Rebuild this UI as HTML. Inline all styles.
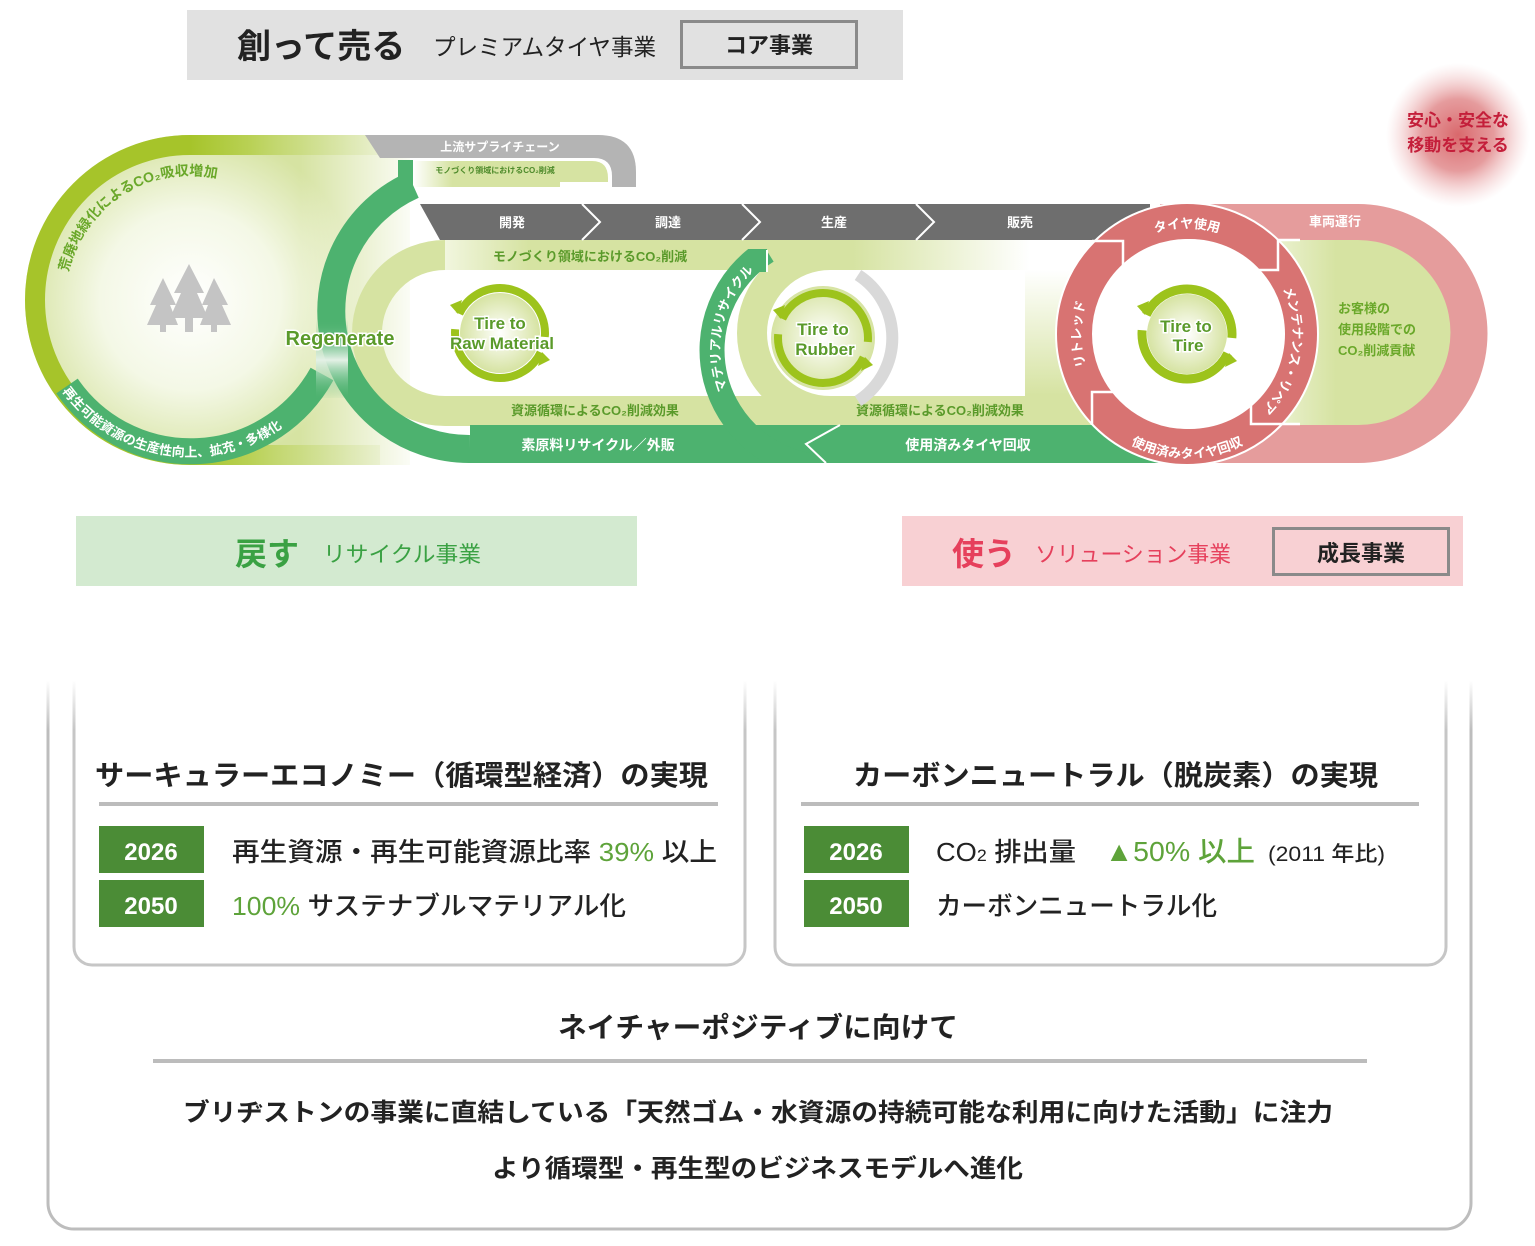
<!DOCTYPE html>
<html><head><meta charset="utf-8">
<style>
html,body{margin:0;padding:0;background:#fff;}
svg{display:block;font-family:"Liberation Sans","Noto Sans CJK JP",sans-serif;}
.b{font-weight:700;}
</style></head><body>
<svg width="1535" height="1246" viewBox="0 0 1535 1246" xmlns="http://www.w3.org/2000/svg">
<defs>
<radialGradient id="blob" cx="190" cy="300" r="200" gradientUnits="userSpaceOnUse">
<stop offset="0" stop-color="#fff"/><stop offset="0.45" stop-color="#f4f8e6"/><stop offset="0.85" stop-color="#d6e3a2"/><stop offset="1" stop-color="#d6e3a2"/>
</radialGradient>
<linearGradient id="blobfade" x1="190" y1="0" x2="410" y2="0" gradientUnits="userSpaceOnUse">
<stop offset="0" stop-color="#fff" stop-opacity="0"/><stop offset="0.5" stop-color="#fff" stop-opacity="0"/><stop offset="1" stop-color="#fff" stop-opacity="0.9"/>
</linearGradient>
<linearGradient id="ringfade" x1="190" y1="0" x2="390" y2="0" gradientUnits="userSpaceOnUse">
<stop offset="0" stop-color="#a6c42a"/><stop offset="0.3" stop-color="#b9d155"/><stop offset="1" stop-color="#dfe9b9" stop-opacity="0.3"/>
</linearGradient>
<linearGradient id="topband" x1="440" y1="0" x2="1030" y2="0" gradientUnits="userSpaceOnUse">
<stop offset="0" stop-color="#f3f7e2"/><stop offset="0.15" stop-color="#d6e3a2"/><stop offset="0.7" stop-color="#d6e3a2"/><stop offset="1" stop-color="#fff"/>
</linearGradient>
<linearGradient id="thinband" x1="413" y1="0" x2="610" y2="0" gradientUnits="userSpaceOnUse">
<stop offset="0" stop-color="#fff"/><stop offset="0.2" stop-color="#d6e3a2"/><stop offset="1" stop-color="#d6e3a2"/>
</linearGradient>
<linearGradient id="rightv" x1="0" y1="270" x2="0" y2="395" gradientUnits="userSpaceOnUse">
<stop offset="0" stop-color="#fff"/><stop offset="1" stop-color="#d6e3a2"/>
</linearGradient>
<linearGradient id="custg" x1="1260" y1="0" x2="1450" y2="0" gradientUnits="userSpaceOnUse">
<stop offset="0" stop-color="#f0f5dc"/><stop offset="0.4" stop-color="#d6e3a2"/><stop offset="1" stop-color="#d6e3a2"/>
</linearGradient>
<radialGradient id="tireg" cx="0.5" cy="0.5" r="0.5">
<stop offset="0" stop-color="#fff"/><stop offset="1" stop-color="#d6e3a2"/>
</radialGradient>
<radialGradient id="pinkblur" cx="1458" cy="135" r="72" gradientUnits="userSpaceOnUse">
<stop offset="0" stop-color="#d9686c"/><stop offset="0.5" stop-color="#e18a8c" stop-opacity="0.85"/><stop offset="1" stop-color="#f2c4c5" stop-opacity="0"/>
</radialGradient>
<linearGradient id="regen" x1="0" y1="320" x2="0" y2="400" gradientUnits="userSpaceOnUse">
<stop offset="0" stop-color="#4db26f" stop-opacity="0"/><stop offset="0.5" stop-color="#e4f1e6"/><stop offset="1" stop-color="#4db26f" stop-opacity="0"/>
</linearGradient>
<linearGradient id="topfade" x1="0" y1="640" x2="0" y2="730" gradientUnits="userSpaceOnUse">
<stop offset="0" stop-color="#fff" stop-opacity="1"/><stop offset="0.45" stop-color="#fff" stop-opacity="1"/><stop offset="1" stop-color="#fff" stop-opacity="0"/>
</linearGradient>
<clipPath id="matclip"><rect x="600" y="249" width="300" height="214"/></clipPath>
<path id="p-left" d="M67 278 A125 125 0 0 1 233 183"/>
<path id="p-bot" d="M60 388 A158 158 0 0 0 327 378"/>
<path id="p-mat" d="M734.7 405 A110 110 0 0 1 766.9 259.9"/>
<path id="p-rtop" d="M1142.2 237.9 A106 106 0 0 1 1231.8 237.9"/>
<path id="p-rright" d="M1273.8 273.2 A106 106 0 0 1 1247.8 420.8"/>
<path id="p-rleft" d="M1090.9 378.8 A106 106 0 0 1 1090.9 289.2"/>
<path id="p-rbot" d="M1099.3 421.7 A124 124 0 0 0 1274.7 421.7"/>
</defs>

<!-- Header -->
<rect x="187" y="10" width="716" height="70" fill="#e1e1e1"/>
<text x="237" y="58" font-size="34" class="b" fill="#222">創って売る</text>
<text x="433" y="55" font-size="23" fill="#222" textLength="223" lengthAdjust="spacingAndGlyphs">プレミアムタイヤ事業</text>
<rect x="681.5" y="21.5" width="175" height="46" fill="#e1e1e1" stroke="#8a8a8a" stroke-width="3"/>
<text x="769" y="53" font-size="22" class="b" fill="#222" text-anchor="middle">コア事業</text>

<!-- Left blob -->
<path d="M410 135 L190 135 A165 165 0 0 0 190 465 L410 465 Z" fill="url(#blob)"/>
<path d="M410 135 L190 135 A165 165 0 0 0 190 465 L410 465 Z" fill="url(#blobfade)"/>
<path d="M385 145 L190 145 A155 155 0 0 0 190 455 L380 455" fill="none" stroke="url(#ringfade)" stroke-width="20"/>
<path d="M67 386 A150 150 0 0 0 322 374" fill="none" stroke="#4db26f" stroke-width="26"/>
<text font-size="14" class="b" fill="#6aa82a"><textPath href="#p-left" startOffset="6">荒廃地緑化によるCO₂吸収増加</textPath></text>
<text font-size="13" class="b" fill="#fff"><textPath href="#p-bot" startOffset="4">再生可能資源の生産性向上、拡充・多様化</textPath></text>
<!-- trees -->
<g fill="#c4c4c4">
<polygon points="163,278 150,305 156,305 147,325 160,325 160,332 166,332 166,325 178,325 170,305 176,305"/>
<polygon points="214,278 202,305 208,305 200,325 211,325 211,332 217,332 217,325 231,325 222,305 228,305"/>
<polygon points="189,264 174,293 181,293 170,318 185,318 185,332 193,332 193,318 208,318 197,293 204,293"/>
</g>

<!-- gray upstream band -->
<path d="M365 135 L598 135 Q636 135 636 172 L636 187 L612 187 L612 176 Q612 158 594 158 L380 158 Z" fill="#b4b4b4"/>
<text x="500" y="151" font-size="12" class="b" fill="#fff" text-anchor="middle">上流サプライチェーン</text>
<path d="M413 161 L592 161 Q608 161 608 178 L608 187 L413 187 Z" fill="url(#thinband)"/>
<path d="M560 185 L612 185" stroke="#fff" stroke-width="6"/>
<text x="495" y="173" font-size="8" class="b" fill="#4d8a2a" text-anchor="middle">モノづくり領域におけるCO₂削減</text>

<!-- light inner C + bands -->
<path d="M445 255 A78 78 0 0 0 445 411" fill="none" stroke="#d6e3a2" stroke-width="30"/>
<rect x="445" y="240" width="590" height="30" fill="url(#topband)"/>
<rect x="445" y="396" width="650" height="30" fill="#d6e3a2"/>
<path d="M830 255 A78 78 0 0 0 830 411" fill="none" stroke="#d6e3a2" stroke-width="30"/>
<rect x="1025" y="270" width="70" height="126" fill="url(#rightv)"/>

<!-- big green C -->
<path d="M413 185 A138 138 0 0 0 470 449" fill="none" stroke="#4db26f" stroke-width="28"/>
<rect x="398" y="160" width="15" height="40" fill="#4db26f"/>
<rect x="316" y="318" width="32" height="80" fill="url(#regen)"/>
<rect x="470" y="425" width="700" height="38" fill="#4db26f"/>
<text x="340" y="345" font-size="20" class="b" fill="#5a9a2a" text-anchor="middle" stroke="#fff" stroke-width="3" paint-order="stroke">Regenerate</text>
<text x="598" y="450" font-size="14" class="b" fill="#fff" text-anchor="middle">素原料リサイクル／外販</text>
<text x="968" y="450" font-size="14" class="b" fill="#fff" text-anchor="middle">使用済みタイヤ回収</text>
<text x="595" y="415" font-size="13" class="b" fill="#5a9a2a" text-anchor="middle">資源循環によるCO₂削減効果</text>
<text x="940" y="415" font-size="13" class="b" fill="#5a9a2a" text-anchor="middle">資源循環によるCO₂削減効果</text>
<text x="590" y="261" font-size="13" class="b" fill="#5a9a2a" text-anchor="middle">モノづくり領域におけるCO₂削減</text>

<!-- process arrows -->
<polygon points="420,204 1150,204 1150,240 440,240" fill="#6e6e6e"/>
<g fill="none" stroke="#fff" stroke-width="2">
<polyline points="582,204 600,222 582,240"/>
<polyline points="742,204 760,222 742,240"/>
<polyline points="916,204 934,222 916,240"/>
</g>
<g font-size="13" class="b" fill="#fff" text-anchor="middle">
<text x="512" y="227">開発</text><text x="668" y="227">調達</text><text x="834" y="227">生産</text><text x="1020" y="227">販売</text>
</g>

<!-- material recycle arc -->
<g clip-path="url(#matclip)">
<path d="M767 251 A117 117 0 0 0 822 467" fill="none" stroke="#4db26f" stroke-width="25"/>
<rect x="753" y="248" width="14" height="24" fill="#4db26f"/>
</g>
<polyline points="840,425 806,444 826,463" fill="none" stroke="#fff" stroke-width="2"/>
<path d="M767 250 L767 272" stroke="#fff" stroke-width="2"/>
<text font-size="13" class="b" fill="#fff"><textPath href="#p-mat" startOffset="50%" text-anchor="middle">マテリアルリサイクル</textPath></text>

<!-- Tire to Raw Material -->
<circle cx="500" cy="333" r="40" fill="url(#tireg)"/>
<circle cx="500" cy="333" r="45" fill="none" stroke="#9dc31c" stroke-width="8" stroke-dasharray="125 16" stroke-dashoffset="-20"/>
<polygon points="450,305 462,300 458,314" fill="#9dc31c"/>
<polygon points="550,360 538,366 542,352" fill="#9dc31c"/>
<text x="500" y="329" font-size="17" class="b" fill="#5a9a2a" text-anchor="middle" stroke="#fff" stroke-width="3" paint-order="stroke">Tire to</text>
<text x="502" y="349" font-size="17" class="b" fill="#5a9a2a" text-anchor="middle" stroke="#fff" stroke-width="3" paint-order="stroke">Raw Material</text>

<!-- Tire to Rubber -->
<path d="M858 275 A75 75 0 0 1 858 401" fill="none" stroke="#d9d9d9" stroke-width="12"/>
<circle cx="823" cy="338" r="52" fill="url(#tireg)"/>
<circle cx="823" cy="338" r="45" fill="none" stroke="#9dc31c" stroke-width="8" stroke-dasharray="125 16" stroke-dashoffset="-20"/>
<polygon points="773,310 785,305 781,319" fill="#9dc31c"/>
<polygon points="873,365 861,371 865,357" fill="#9dc31c"/>
<text x="823" y="335" font-size="17" class="b" fill="#5a9a2a" text-anchor="middle" stroke="#fff" stroke-width="3" paint-order="stroke">Tire to</text>
<text x="825" y="355" font-size="17" class="b" fill="#5a9a2a" text-anchor="middle" stroke="#fff" stroke-width="3" paint-order="stroke">Rubber</text>

<!-- Pink stadium -->
<path d="M1160 204 L1358 204 A129.5 129.5 0 0 1 1358 463 L1160 463 Z" fill="#e59c9c"/>
<path d="M1260 240 L1358 240 A92.5 92.5 0 0 1 1358 425 L1260 425 Z" fill="url(#custg)"/>
<text x="1335" y="226" font-size="13" class="b" fill="#fff" text-anchor="middle">車両運行</text>
<g font-size="13" class="b" fill="#6aa82a">
<text x="1338" y="313">お客様の</text><text x="1338" y="334">使用段階での</text><text x="1338" y="355">CO₂削減貢献</text>
</g>

<!-- Red ring -->
<circle cx="1187" cy="334" r="131" fill="#fff"/>
<circle cx="1187" cy="334" r="113" fill="none" stroke="#d87372" stroke-width="36"/>
<circle cx="1187" cy="334" r="131" fill="none" stroke="#fff" stroke-width="2"/>
<circle cx="1190" cy="334" r="95" fill="#fff"/>
<g fill="none" stroke="#fff" stroke-width="2.5">
<polyline points="1092,241 1123,241 1123,270"/>
<polyline points="1252,270 1278,270 1278,240 1300,240"/>
<polyline points="1251,397 1251,424 1300,424"/>
<polyline points="1120,392 1092,392 1092,425"/>
</g>
<g font-size="13" class="b" fill="#fff">
<text><textPath href="#p-rtop" startOffset="50%" text-anchor="middle">タイヤ使用</textPath></text>
<text><textPath href="#p-rright" startOffset="50%" text-anchor="middle">メンテナンス・リペア</textPath></text>
<text><textPath href="#p-rleft" startOffset="50%" text-anchor="middle">リトレッド</textPath></text>
<text><textPath href="#p-rbot" startOffset="50%" text-anchor="middle">使用済みタイヤ回収</textPath></text>
</g>
<circle cx="1187" cy="334" r="40" fill="url(#tireg)"/>
<circle cx="1187" cy="334" r="45" fill="none" stroke="#9dc31c" stroke-width="9" stroke-dasharray="125 16" stroke-dashoffset="-20"/>
<polygon points="1137,306 1149,301 1145,315" fill="#9dc31c"/>
<polygon points="1237,361 1225,367 1229,353" fill="#9dc31c"/>
<text x="1186" y="332" font-size="17" class="b" fill="#5a9a2a" text-anchor="middle" stroke="#fff" stroke-width="3" paint-order="stroke">Tire to</text>
<text x="1188" y="351" font-size="17" class="b" fill="#5a9a2a" text-anchor="middle" stroke="#fff" stroke-width="3" paint-order="stroke">Tire</text>

<!-- pink blur -->
<circle cx="1458" cy="135" r="72" fill="url(#pinkblur)"/>
<text x="1458" y="126" font-size="17" class="b" fill="#c41e3a" text-anchor="middle">安心・安全な</text>
<text x="1458" y="151" font-size="17" class="b" fill="#c41e3a" text-anchor="middle">移動を支える</text>

<!-- Section titles -->
<rect x="76" y="516" width="561" height="70" fill="#d3ead0"/>
<text x="235" y="565" font-size="32" class="b" fill="#3aa143">戻す</text>
<text x="323" y="562" font-size="22" fill="#3aa143" textLength="158" lengthAdjust="spacingAndGlyphs">リサイクル事業</text>
<rect x="902" y="516" width="561" height="70" fill="#f8d0d3"/>
<text x="952" y="565" font-size="32" class="b" fill="#e6405c">使う</text>
<text x="1035" y="562" font-size="22" fill="#e6405c" textLength="196" lengthAdjust="spacingAndGlyphs">ソリューション事業</text>
<rect x="1273.5" y="528.5" width="175" height="46" fill="#f8d0d3" stroke="#8a8a8a" stroke-width="3"/>
<text x="1361" y="561" font-size="22" class="b" fill="#222" text-anchor="middle">成長事業</text>

<!-- Bottom boxes -->
<rect x="48" y="630" width="1423" height="599" rx="26" fill="#fff" stroke="#bdbdbd" stroke-width="3"/>
<rect x="74" y="630" width="671" height="335" rx="18" fill="#fff" stroke="#c6c6c6" stroke-width="3"/>
<rect x="775" y="630" width="671" height="335" rx="18" fill="#fff" stroke="#c6c6c6" stroke-width="3"/>
<rect x="40" y="625" width="1440" height="105" fill="url(#topfade)"/>

<text x="95" y="785" font-size="28" class="b" fill="#222" textLength="613" lengthAdjust="spacingAndGlyphs">サーキュラーエコノミー（循環型経済）の実現</text>
<line x1="99" y1="804" x2="718" y2="804" stroke="#bcbcbc" stroke-width="4"/>
<rect x="99" y="826" width="105" height="47" fill="#4b8c36"/>
<text x="151" y="860" font-size="24" class="b" fill="#fff" text-anchor="middle">2026</text>
<rect x="99" y="880" width="105" height="47" fill="#4b8c36"/>
<text x="151" y="914" font-size="24" class="b" fill="#fff" text-anchor="middle">2050</text>
<text x="232" y="861" font-size="26" font-weight="500" fill="#222" textLength="485" lengthAdjust="spacingAndGlyphs">再生資源・再生可能資源比率 <tspan fill="#5ea33a">39%</tspan> 以上</text>
<text x="232" y="915" font-size="26" font-weight="500" fill="#222" textLength="394" lengthAdjust="spacingAndGlyphs"><tspan fill="#5ea33a">100%</tspan> サステナブルマテリアル化</text>

<text x="853" y="785" font-size="28" class="b" fill="#222" textLength="525" lengthAdjust="spacingAndGlyphs">カーボンニュートラル（脱炭素）の実現</text>
<line x1="801" y1="804" x2="1419" y2="804" stroke="#bcbcbc" stroke-width="4"/>
<rect x="804" y="826" width="105" height="47" fill="#4b8c36"/>
<text x="856" y="860" font-size="24" class="b" fill="#fff" text-anchor="middle">2026</text>
<rect x="804" y="880" width="105" height="47" fill="#4b8c36"/>
<text x="856" y="914" font-size="24" class="b" fill="#fff" text-anchor="middle">2050</text>
<text x="936" y="861" font-size="26" font-weight="500" fill="#222" textLength="140" lengthAdjust="spacingAndGlyphs">CO<tspan font-size="17">2</tspan> 排出量</text>
<text x="1105" y="861" font-size="28" font-weight="500" fill="#5ea33a" textLength="150" lengthAdjust="spacingAndGlyphs">▲50% 以上</text>
<text x="1268" y="861" font-size="21" font-weight="500" fill="#222" textLength="117" lengthAdjust="spacingAndGlyphs">(2011 年比)</text>
<text x="936" y="915" font-size="26" font-weight="500" fill="#222" textLength="281" lengthAdjust="spacingAndGlyphs">カーボンニュートラル化</text>

<text x="558" y="1037" font-size="28" class="b" fill="#222" textLength="400" lengthAdjust="spacingAndGlyphs">ネイチャーポジティブに向けて</text>
<line x1="153" y1="1061" x2="1367" y2="1061" stroke="#bcbcbc" stroke-width="4"/>
<text x="183" y="1121" font-size="25" class="b" fill="#222" textLength="1150" lengthAdjust="spacingAndGlyphs">ブリヂストンの事業に直結している「天然ゴム・水資源の持続可能な利用に向けた活動」に注力</text>
<text x="492" y="1177" font-size="25" class="b" fill="#222" textLength="531" lengthAdjust="spacingAndGlyphs">より循環型・再生型のビジネスモデルへ進化</text>
</svg>
</body></html>
